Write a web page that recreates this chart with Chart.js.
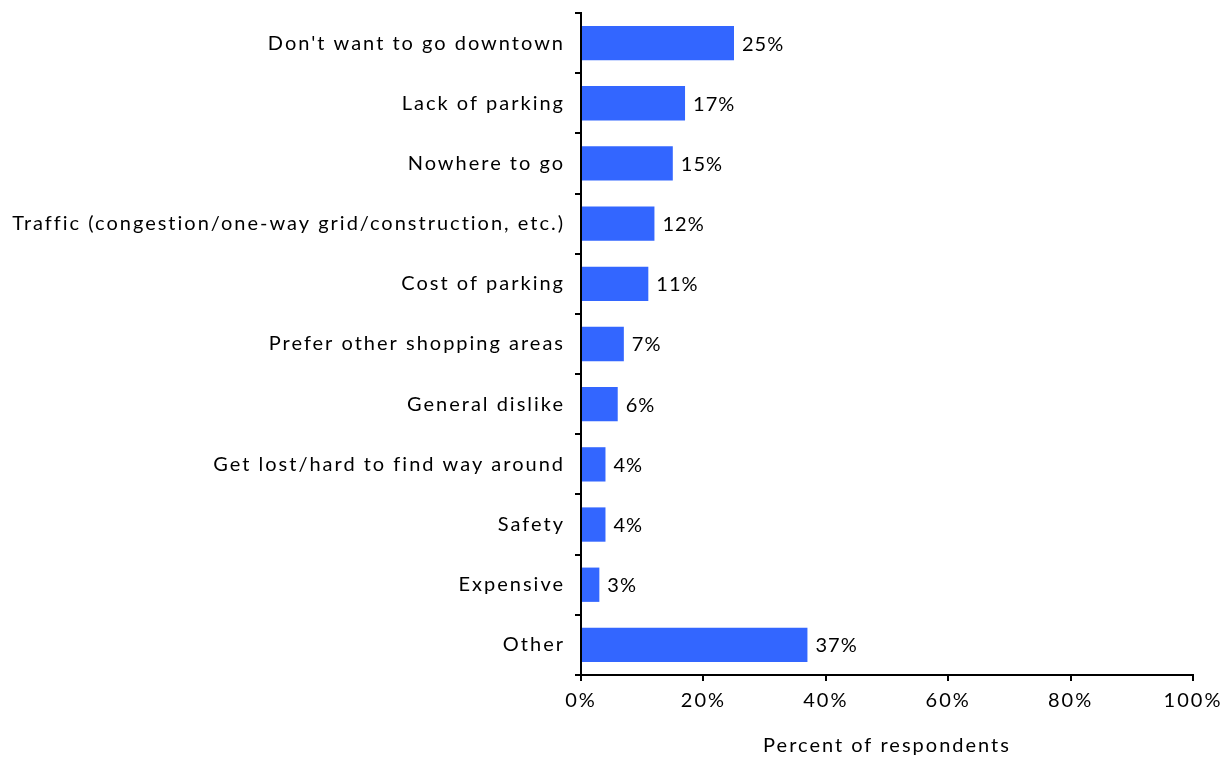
<!DOCTYPE html>
<html>
<head>
<meta charset="utf-8">
<script src="https://cdn.jsdelivr.net/npm/chart.js@4"></script>
<style>
  html, body { margin: 0; padding: 0; background: #fff; }
  #wrap { width: 1227px; height: 757px; }
</style>
</head>
<body>
<div id="wrap"><canvas id="chart"></canvas></div>
<script>
const reasons = [
  "Don't want to go downtown",
  'Lack of parking',
  'Nowhere to go',
  'Traffic (congestion/one-way grid/construction, etc.)',
  'Cost of parking',
  'Prefer other shopping areas',
  'General dislike',
  'Get lost/hard to find way around',
  'Safety',
  'Expensive',
  'Other'
]
const percents = [25, 17, 15, 12, 11, 7, 6, 4, 4, 3, 37]
const xTicks = [0, 20, 40, 60, 80, 100]

const FONT = 'Lato'
const barColor = '#3366ff'

// loose letter spacing for every text drawn on the canvas
const spacing = {
  id: 'spacing',
  beforeLayout(chart) { chart.ctx.letterSpacing = '2px' },
  beforeDraw(chart) { chart.ctx.letterSpacing = '2px' }
}

// value labels just past the end of each bar
const valueLabels = {
  id: 'valueLabels',
  afterDatasetsDraw(chart) {
    const ctx = chart.ctx
    const meta = chart.getDatasetMeta(0)
    ctx.save()
    ctx.letterSpacing = '1px'
    ctx.font = `20px ${FONT}`
    ctx.fillStyle = '#000'
    ctx.textAlign = 'left'
    ctx.textBaseline = 'middle'
    meta.data.forEach((bar, i) => {
      ctx.fillText(percents[i] + '%', bar.x + 8, bar.y + 1)
    })
    ctx.restore()
  }
}

new Chart(document.getElementById('chart'), {
  type: 'bar',
  data: {
    labels: reasons,
    datasets: [{
      data: percents,
      backgroundColor: barColor,
      barPercentage: 0.57,
      categoryPercentage: 1
    }]
  },
  options: {
    indexAxis: 'y',
    responsive: true,
    maintainAspectRatio: false,
    animation: false,
    layout: { padding: { top: 13, right: 34, left: 0, bottom: 0 } },
    plugins: {
      legend: { display: false },
      tooltip: { enabled: false }
    },
    scales: {
      y: {
        afterFit: (scale) => {
          scale.width = 581
          scale.paddingTop = 0
          scale.paddingBottom = 0
        },
        grid: { offset: true, drawOnChartArea: false, tickLength: 6, color: '#000', lineWidth: 2 },
        border: { color: '#000', width: 2 },
        ticks: {
          padding: 10,
          color: '#000',
          font: { family: FONT, size: 20 }
        }
      },
      x: {
        min: 0,
        max: 100,
        afterFit: (scale) => {
          scale.height = 82
          scale.paddingLeft = 0
          scale.paddingRight = 0
        },
        afterBuildTicks: (scale) => { scale.ticks = xTicks.map(v => ({ value: v })) },
        grid: { drawOnChartArea: false, tickLength: 6, color: '#000', lineWidth: 2 },
        border: { color: '#000', width: 2 },
        ticks: {
          padding: 8,
          color: '#000',
          font: { family: FONT, size: 20 },
          callback: (v) => v + '%'
        },
        title: {
          display: true,
          text: 'Percent of respondents',
          color: '#000',
          font: { family: FONT, size: 20 },
          padding: { top: 10, bottom: -1 }
        }
      }
    }
  },
  plugins: [spacing, valueLabels]
})
</script>
</body>
</html>
